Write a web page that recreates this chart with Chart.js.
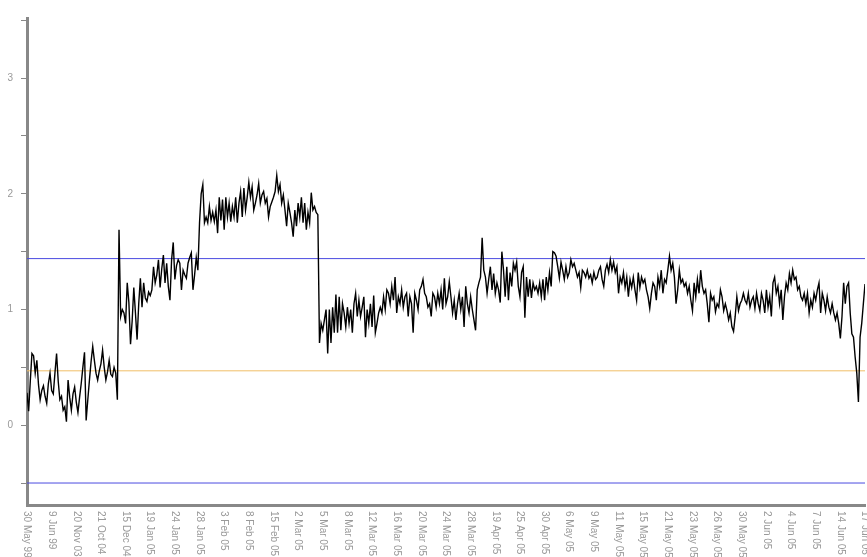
<!DOCTYPE html>
<html>
<head>
<meta charset="utf-8">
<title>Control chart</title>
<script src="https://cdn.jsdelivr.net/npm/chart.js@4.4.1/dist/chart.umd.min.js"></script>
<style>
	html, body { margin: 0; padding: 0; background: #fff; }
	#wrap { width: 867px; height: 557px; position: relative; }
</style>
</head>
<body>
<div id="wrap"><canvas id="control-chart"></canvas></div>
<script>
//////////////////////////////////////////
// DATA
//////////////////////////////////////////

// Tick labels along the bottom, one every 15 readings
var dateLabels = ["30 May 99","9 Jun 99","20 Nov 03","21 Oct 04","15 Dec 04","19 Jan 05","24 Jan 05",
	"28 Jan 05","3 Feb 05","8 Feb 05","15 Feb 05","2 Mar 05","5 Mar 05","8 Mar 05","12 Mar 05",
	"16 Mar 05","20 Mar 05","24 Mar 05","28 Mar 05","19 Apr 05","25 Apr 05","30 Apr 05","6 May 05",
	"9 May 05","11 May 05","15 May 05","21 May 05","23 May 05","26 May 05","30 May 05","2 Jun 05",
	"4 Jun 05","7 Jun 05","14 Jun 05","17 Jun 05"];
var readingsPerLabel = 15;

// Readings, split by period
var valuesMay99toDec04 = [0.28,0.12,0.38,0.62,0.60,0.45,0.56,0.35,0.22,0.30,
	0.34,0.25,0.19,0.36,0.45,0.30,0.27,0.45,0.62,0.38,
	0.22,0.25,0.13,0.16,0.03,0.39,0.24,0.13,0.27,0.33,
	0.20,0.11,0.24,0.36,0.50,0.63,0.04,0.22,0.39,0.55,
	0.68,0.56,0.45,0.39,0.47,0.53,0.65,0.50,0.39,0.46,
	0.56,0.44,0.42,0.50,0.45,0.22,1.69];
var valuesDec04toJan05 = [0.94,1.00,0.97,0.88,1.23,1.06,0.70,0.90,1.19,0.97,
	0.74,1.05,1.27,1.02,1.23,1.10,1.07,1.15,1.12,1.17,
	1.37,1.23,1.30,1.43,1.19,1.35,1.47,1.23,1.40,1.20,
	1.08,1.43,1.58,1.26,1.38,1.43,1.40,1.17,1.34,1.30,
	1.27,1.40,1.45,1.49,1.17,1.30,1.45,1.34];
var valuesJan05toMar05 = [1.75,2.00,2.08,1.75,1.80,1.75,1.89,1.77,1.84,1.76,
	1.86,1.66,1.97,1.77,1.95,1.69,1.97,1.80,1.92,1.76,
	1.89,1.80,1.97,1.75,1.92,2.02,1.80,2.05,1.86,1.97,
	2.10,1.97,2.06,1.86,1.92,1.99,2.09,1.92,1.99,2.02,
	1.92,1.96,1.80,1.89,1.93,1.97,2.02,2.16,2.02,2.08,
	1.92,1.99,1.86,1.72,1.92,1.84,1.75,1.63,1.86,1.72,
	1.92,1.80,1.97,1.75,1.92,1.69,1.84,1.75,2.01,1.86,
	1.89,1.84,1.82];
var valuesMar05toApr05 = [0.71,0.88,0.82,0.91,1.00,0.62,1.00,0.71,1.02,0.80,
	1.13,0.80,1.11,0.82,1.05,0.97,0.85,1.02,0.88,1.00,
	0.80,1.05,1.14,0.94,1.08,0.94,1.02,1.11,0.76,1.00,
	0.88,1.05,0.85,1.12,0.80,0.88,0.97,1.02,0.97,1.11,
	1.00,1.17,1.14,1.05,1.20,1.08,1.28,0.97,1.11,1.05,
	1.17,1.02,1.11,1.14,0.94,1.11,1.05,0.80,1.14,1.08,
	1.00,1.17,1.20,1.26,1.14,1.11,1.02,1.05,0.94,1.14,
	1.11,1.02,1.14,1.05,1.17,1.00,1.27,1.05,1.11,1.24,
	1.11,0.97,1.08,0.91,1.05,1.14,1.00,1.11,0.85,1.20,
	1.05,0.97,1.11,1.00,0.91,0.82,1.17,1.23,1.28,1.62];
var valuesApr05toMay05 = [1.34,1.28,1.14,1.26,1.37,1.17,1.31,1.14,1.23,1.17,
	1.06,1.50,1.34,1.11,1.37,1.08,1.32,1.20,1.40,1.34,
	1.41,1.20,1.11,1.32,1.37,0.93,1.28,1.11,1.26,1.10,
	1.23,1.17,1.20,1.14,1.23,1.11,1.26,1.08,1.28,1.17,
	1.32,1.20,1.50,1.49,1.46,1.37,1.27,1.41,1.34,1.26,
	1.37,1.28,1.32,1.43,1.37,1.40,1.34,1.28,1.32,1.19,
	1.34,1.32,1.28,1.34,1.27,1.30,1.23,1.32,1.26,1.28,
	1.34,1.37,1.26,1.20,1.34,1.39,1.32,1.43,1.34,1.41,
	1.32,1.37,1.14,1.28,1.23,1.32,1.19,1.28,1.11,1.26,
	1.19,1.28,1.17,1.08,1.32,1.19,1.28,1.23,1.26,1.17,
	1.11,1.01,1.14,1.23,1.20];
var valuesMay05toJun05 = [1.08,1.28,1.20,1.34,1.14,1.26,1.23,1.34,1.46,1.34,
	1.40,1.28,1.05,1.17,1.34,1.23,1.26,1.20,1.23,1.14,
	1.20,1.08,0.99,1.23,1.11,1.26,1.14,1.34,1.20,1.14,
	1.17,1.05,0.89,1.14,1.08,1.11,0.98,1.05,1.02,1.17,
	1.11,0.99,1.05,0.99,0.91,0.97,0.85,0.81,0.94,1.11,
	0.99,1.05,1.08,1.14,1.08,1.05,1.14,1.02,1.08,1.11,
	1.01,1.14,1.05,0.99,1.14,1.08,0.97,1.17,1.02,1.11,
	0.94,1.23,1.28,1.14,1.20,1.05,1.17,0.91,1.11,1.23,
	1.17,1.31,1.23,1.34,1.26,1.28,1.17,1.20,1.11,1.08,
	1.14,1.05,1.14,0.97,1.08,1.02,1.14,1.08,1.17,1.23,
	0.97,1.14,1.08,0.99,1.11,1.02,0.97,1.05,0.97,0.91,
	0.97,0.88,0.75,0.94,1.23,1.05,1.20,1.23,0.97,0.79,
	0.76,0.59,0.45,0.20,0.76,0.88,1.05,1.22];

// Control limits
var upperLimit = 1.44;
var centreLine = 0.47;
var lowerLimit = -0.5;

// Y axis ticks (labels only on whole numbers)
var yTickValues = [-0.5,0,0.5,1,1.5,2,2.5,3,3.5];
var yMin = -0.69;
var yMax = 3.52;

//////////////////////////////////////////
// CHART
//////////////////////////////////////////

var readings = [].concat(valuesMay99toDec04, valuesDec04toJan05, valuesJan05toMar05,
	valuesMar05toApr05, valuesApr05toMay05, valuesMay05toJun05);
var lastIndex = (dateLabels.length - 1) * readingsPerLabel;

var series_data = [];
for (var i = 0; i < readings.length; i++) {
	series_data.push({ x: i, y: readings[i] });
}

function flatLine(value) {
	return [{ x: 0, y: value }, { x: lastIndex, y: value }];
}

// Date labels run downwards from the axis, so they are drawn here
var dateLabelPlugin = {
	id: "dateLabels",
	afterDraw: function(chart) {
		var ctx = chart.ctx;
		var scale = chart.scales.x;
		ctx.save();
		ctx.font = "10px 'Liberation Sans', Arial, sans-serif";
		ctx.fillStyle = "#999";
		ctx.textAlign = "left";
		ctx.textBaseline = "middle";
		for (var k = 0; k < dateLabels.length; k++) {
			var x = scale.getPixelForValue(k * readingsPerLabel);
			ctx.save();
			ctx.translate(x, scale.top + 6);
			ctx.rotate(Math.PI / 2);
			ctx.fillText(dateLabels[k], 0, 0);
			ctx.restore();
		}
		ctx.restore();
	}
};

var chart_ctx = document.getElementById("control-chart");
var control_chart = new Chart(chart_ctx, {
	type: "line",
	data: {
		datasets: [{
			data: series_data,
			borderColor: "#000",
			borderWidth: 1.4,
			pointRadius: 0,
			tension: 0
		}, {
			data: flatLine(upperLimit),
			borderColor: "#4b4be0",
			borderWidth: 1,
			pointRadius: 0
		}, {
			data: flatLine(centreLine),
			borderColor: "#f0be66",
			borderWidth: 1,
			pointRadius: 0
		}, {
			data: flatLine(lowerLimit),
			borderColor: "#4b4be0",
			borderWidth: 1,
			pointRadius: 0
		}]
	},
	options: {
		responsive: true,
		maintainAspectRatio: false,
		animation: false,
		layout: { padding: { top: 18, right: 2, left: 0, bottom: 0 } },
		plugins: {
			legend: { display: false },
			tooltip: { enabled: false }
		},
		scales: {
			x: {
				type: "linear",
				min: 0,
				max: lastIndex,
				ticks: { display: false, stepSize: readingsPerLabel },
				grid: { display: false },
				border: { display: true, color: "#888", width: 3 },
				afterFit: function(axis) { axis.height = 52; }
			},
			y: {
				min: yMin,
				max: yMax,
				afterBuildTicks: function(axis) {
					axis.ticks = yTickValues.map(function(v) { return { value: v }; });
				},
				ticks: {
					autoSkip: false,
					padding: 8,
					color: "#999",
					font: { family: "'Liberation Sans', Arial, sans-serif", size: 10 },
					callback: function(value) {
						return Number.isInteger(value) ? String(value) : "";
					}
				},
				grid: { drawOnChartArea: false, drawTicks: true, tickLength: 6, color: "#888", lineWidth: 1 },
				border: { display: true, color: "#888", width: 3 },
				afterFit: function(axis) { axis.width = 27; }
			}
		}
	},
	plugins: [dateLabelPlugin]
});
</script>
</body>
</html>
